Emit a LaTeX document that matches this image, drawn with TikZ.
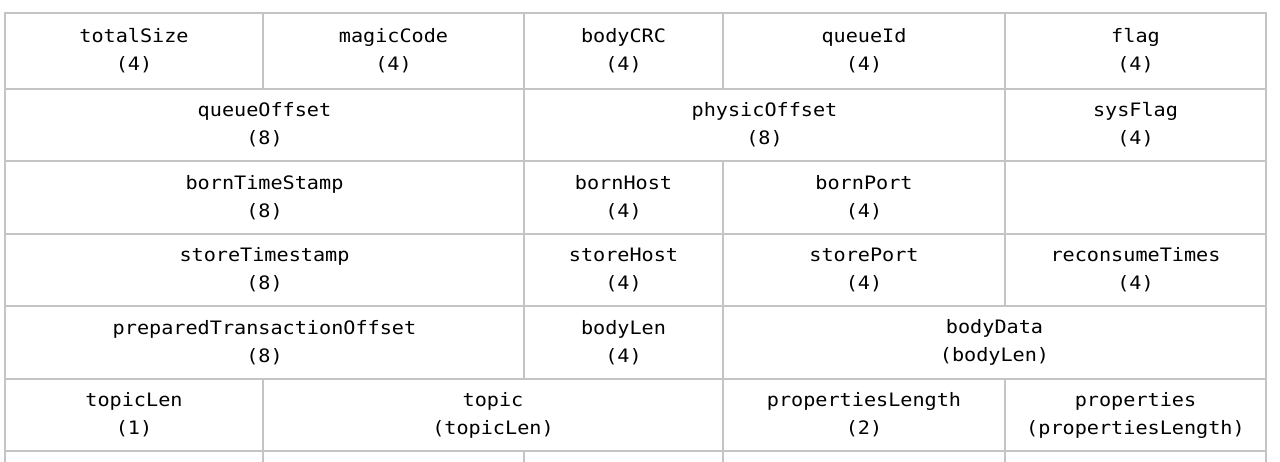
\documentclass[tikz,border=0pt]{standalone}
\usepackage{fontspec}
\usepackage{tikz}
\newfontfamily\fieldfont[FakeStretch=1.09]{DejaVu Sans Mono}
\definecolor{gridgray}{HTML}{C4C4C4}
\tikzset{
  cell/.style = {draw=gridgray, line width=1.3pt, align=center, inner sep=0pt,
    text=black, font=\fieldfont\fontsize{18.5}{28}\selectfont},% one field of the message
}
% \field{name}{left}{right}{top}{bottom}{text}
\newcommand{\field}[6]{%
  \node [cell, minimum width={(#3-#2)*1pt}, minimum height={(#5-#4)*1pt}]
    (#1) at ({(#2+#3)/2},{(#4+#5)/2}) {#6};}

\begin{document}
\begin{tikzpicture}[x=1pt, y=-1pt]
  \useasboundingbox (0,0) rectangle (1280,461);
  \clip (0,0) rectangle (1280,461);
  % row 1
  \field{totalSize}{5}{263}{13}{89}{totalSize\\(4)}
  \field{magicCode}{263}{524}{13}{89}{magicCode\\(4)}
  \field{bodyCRC}{524}{723}{13}{89}{bodyCRC\\(4)}
  \field{queueId}{723}{1005}{13}{89}{queueId\\(4)}
  \field{flag}{1005}{1266}{13}{89}{flag\\(4)}
  % row 2
  \field{queueOffset}{5}{524}{89}{161}{queueOffset\\(8)}
  \field{physicOffset}{524}{1005}{89}{161}{physicOffset\\(8)}
  \field{sysFlag}{1005}{1266}{89}{161}{sysFlag\\(4)}
  % row 3
  \field{bornTimeStamp}{5}{524}{161}{234}{bornTimeStamp\\(8)}
  \field{bornHost}{524}{723}{161}{234}{bornHost\\(4)}
  \field{bornPort}{723}{1005}{161}{234}{bornPort\\(4)}
  \field{blank}{1005}{1266}{161}{234}{}
  % row 4
  \field{storeTimestamp}{5}{524}{234}{306}{storeTimestamp\\(8)}
  \field{storeHost}{524}{723}{234}{306}{storeHost\\(4)}
  \field{storePort}{723}{1005}{234}{306}{storePort\\(4)}
  \field{reconsumeTimes}{1005}{1266}{234}{306}{reconsumeTimes\\(4)}
  % row 5
  \field{preparedTransactionOffset}{5}{524}{306}{379}{preparedTransactionOffset\\(8)}
  \field{bodyLen}{524}{723}{306}{379}{bodyLen\\(4)}
  \field{bodyData}{723}{1266}{306}{379}{bodyData\\(bodyLen)}
  % row 6
  \field{topicLen}{5}{263}{379}{451}{topicLen\\(1)}
  \field{topic}{263}{723}{379}{451}{topic\\(topicLen)}
  \field{propertiesLength}{723}{1005}{379}{451}{propertiesLength\\(2)}
  \field{properties}{1005}{1266}{379}{451}{properties\\(propertiesLength)}
  % row 7, cut off at the bottom
  \field{nextA}{5}{263}{451}{523}{}
  \field{nextB}{263}{524}{451}{523}{}
  \field{nextC}{524}{723}{451}{523}{}
  \field{nextD}{723}{1005}{451}{523}{}
  \field{nextE}{1005}{1266}{451}{523}{}
\end{tikzpicture}
\end{document}
